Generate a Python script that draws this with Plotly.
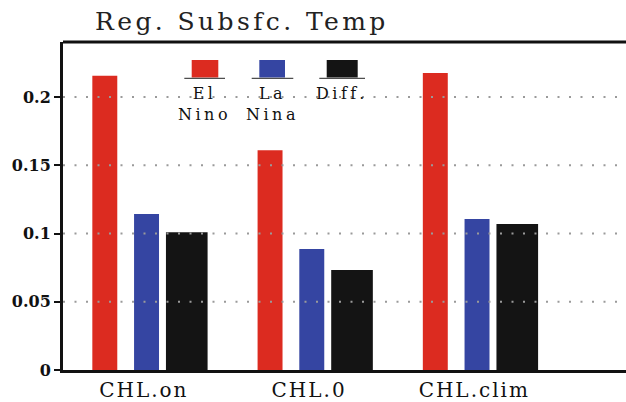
import plotly.graph_objects as go

categories = ["CHL.on", "CHL.0", "CHL.clim"]
el_nino = [0.2155, 0.161, 0.2175]
la_nina = [0.1143, 0.0886, 0.1106]
diff = [0.101, 0.0733, 0.107]
series_names = ["El<br>Nino", "La<br>Nina", "Diff."]
colors = ["#dc2b20", "#3545a2", "#141414"]
yticks = [0, 0.05, 0.1, 0.15, 0.2]
yticklabels = ["0", "0.05", "0.1", "0.15", "0.2"]
title = "Reg. Subsfc. Temp"

W, H = 626, 402
L, R, T, B = 63, 0, 42, 32
PW, PH = W - L - R, H - T - B

def px(x):
    return (x - L) / PW

def py(y):
    return (H - B - y) / PH

def spaced(s, sp):
    return "<br>".join(f'<span style="letter-spacing:{sp}px">{part}</span>' for part in s.split("<br>"))

FONT = "DejaVu Serif"
offsets = [-0.3115, -0.059, 0.134]
widths = [0.151, 0.151, 0.252]

fig = go.Figure()
for vals, name, col, off, w in zip([el_nino, la_nina, diff], series_names, colors, offsets, widths):
    fig.add_trace(go.Bar(x=categories, y=vals, name=name, marker=dict(color=col, line=dict(width=0)),
                         offset=off, width=w, showlegend=False))

# dotted grid above bars
for t in yticks[1:]:
    fig.add_shape(type="line", xref="paper", yref="y", x0=0, x1=1, y0=t, y1=t,
                  line=dict(color="#9a9a9a", width=2, dash="2px,9.5px"), layer="above")

# legend
leg_sq = [(191.7, 218.3), (259.3, 285), (326.7, 357.7)]
leg_ln = [(184.3, 225), (251.7, 293.3), (319.3, 365)]
for (a, b), (c, d), col, name in zip(leg_sq, leg_ln, colors, series_names):
    fig.add_shape(type="rect", xref="paper", yref="paper", x0=px(a), x1=px(b), y0=py(77.5), y1=py(60),
                  fillcolor=col, line=dict(width=0))
    fig.add_shape(type="line", xref="paper", yref="paper", x0=px(c), x1=px(d), y0=py(78.3), y1=py(78.3),
                  line=dict(color="#222", width=1))
    fig.add_annotation(xref="paper", yref="paper", x=px((c + d) / 2), y=py(82), text=spaced(name, 3.5),
                       showarrow=False, xanchor="center", yanchor="top",
                       font=dict(family=FONT, size=16, color="#111"))

# top border
fig.add_shape(type="line", xref="paper", yref="paper", x0=0, x1=1, y0=1, y1=1,
              line=dict(color="#111", width=3), layer="above")

fig.add_annotation(xref="paper", yref="paper", x=px(93), y=py(21), text=spaced(title, 3.4),
                   showarrow=False, xanchor="left", yanchor="middle",
                   font=dict(family=FONT, size=25, color="#222"))

fig.update_layout(
    width=W, height=H, margin=dict(l=L, r=R, t=T, b=B),
    paper_bgcolor="white", plot_bgcolor="white", barmode="overlay",
    font=dict(family=FONT, color="#111"),
)
fig.update_xaxes(range=[-0.489, 2.918], tickvals=categories, ticktext=[spaced(c, 2) for c in categories],
                 showgrid=False, showline=True, linecolor="#111", linewidth=3,
                 ticks="", tickfont=dict(family=FONT, size=20, color="#111"), layer="above traces")
fig.update_yaxes(range=[0, 0.2403], tickvals=yticks, ticktext=[f"<b>{t}</b>" for t in yticklabels],
                 showgrid=False, showline=True, linecolor="#111", linewidth=3, ticks="outside", ticklen=6,
                 tickwidth=2, tickcolor="#111", tickfont=dict(family=FONT, size=16, color="#111"),
                 zeroline=False, layer="above traces")

fig.write_html("out.html")
